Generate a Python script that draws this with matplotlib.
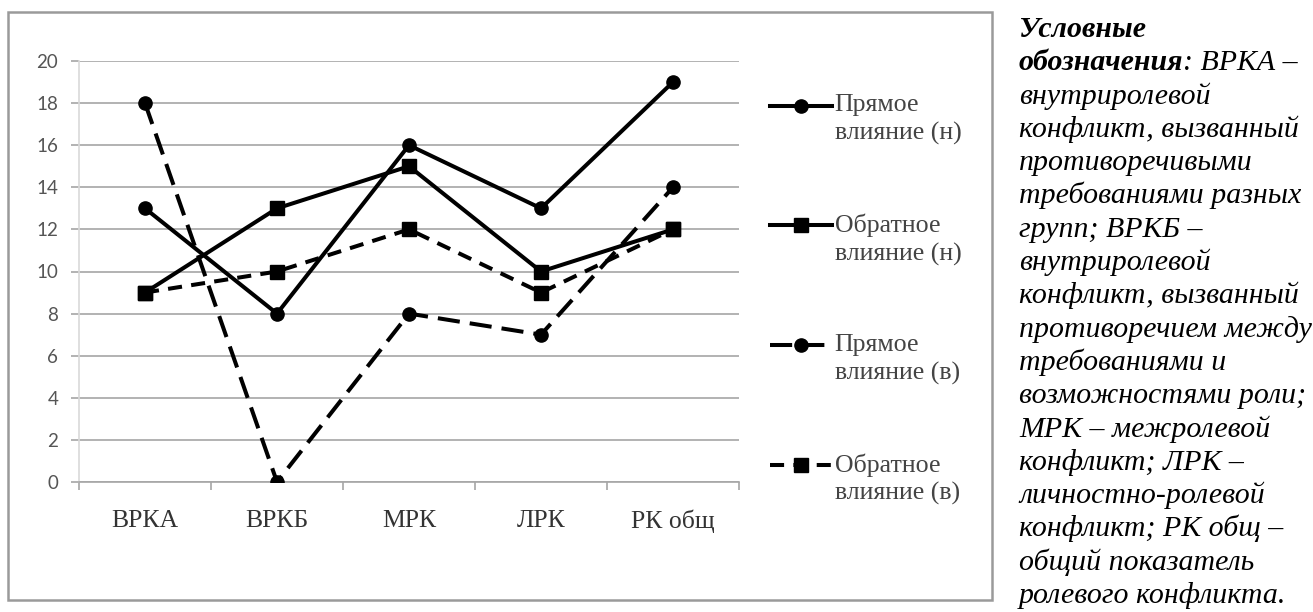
import matplotlib
matplotlib.use('Agg')
import matplotlib.pyplot as plt
from matplotlib.patches import Rectangle

# data
categories = ['ВРКА', 'ВРКБ', 'МРК', 'ЛРК', 'РК общ']
direct_n = [13, 8, 16, 13, 19]
reverse_n = [9, 13, 15, 10, 12]
direct_v = [18, 0, 8, 7, 14]
reverse_v = [9, 10, 12, 9, 12]
labels = ['\nПрямое\nвлияние (н)', '\nОбратное\nвлияние (н)',
          '\nПрямое\nвлияние (в)', '\nОбратное\nвлияние (в)']
y_ticks = [0, 2, 4, 6, 8, 10, 12, 14, 16, 18, 20]

note_bold = ['Условные', 'обозначения']
note_lines = [': ВРКА –', 'внутриролевой', 'конфликт, вызванный',
              'противоречивыми', 'требованиями разных', 'групп; ВРКБ –',
              'внутриролевой', 'конфликт, вызванный', 'противоречием между',
              'требованиями и', 'возможностями роли;', 'МРК – межролевой',
              'конфликт; ЛРК –', 'личностно-ролевой', 'конфликт; РК общ –',
              'общий показатель', 'ролевого конфликта.']

W, H = 1313, 612
fig = plt.figure(figsize=(W / 100, H / 100), dpi=100)


def px(x0, y0, x1, y1):
    return [x0 / W, 1 - y1 / H, (x1 - x0) / W, (y1 - y0) / H]


# chart frame
fig.patches.append(Rectangle((8 / W, 1 - 600 / H), (992 - 8) / W, (600 - 12) / H,
                             transform=fig.transFigure, fill=False,
                             edgecolor='#9a9a9a', lw=1.8, zorder=0))

ax = fig.add_axes(px(79, 61, 739, 482))
x = list(range(len(categories)))

ax.plot(x, direct_n, color='black', lw=2.9, marker='o', ms=9.5,
        label=labels[0], zorder=5)
ax.plot(x, reverse_n, color='black', lw=2.9, marker='s', ms=10.5,
        label=labels[1], zorder=5)
ax.plot(x, direct_v, color='black', lw=2.9, marker='o', ms=9.5,
        dashes=(5.5, 2.5), label=labels[2], zorder=4)
ax.plot(x, reverse_v, color='black', lw=2.9, marker='s', ms=10.5,
        dashes=(3.5, 2.3), label=labels[3], zorder=4)

ax.set_xlim(-0.5, len(categories) - 0.5)
ax.set_ylim(0, 20)
ax.set_yticks(y_ticks)
ax.grid(axis='y', color='#a6a6a6', lw=1.2)
ax.set_axisbelow(True)

for s in ['top', 'right']:
    ax.spines[s].set_visible(False)
ax.spines['left'].set_color('#d9d9d9')
ax.spines['left'].set_linewidth(1.2)
ax.spines['bottom'].set_color('#a6a6a6')
ax.spines['bottom'].set_linewidth(1.2)

ax.set_xticks(x)
ax.set_xticklabels(categories, fontfamily='Liberation Serif', fontsize=18.5,
                   color='#333333')
ax.set_xticks([i - 0.5 for i in range(len(categories) + 1)], minor=True)
ax.tick_params(axis='x', which='major', length=0, pad=20)
ax.tick_params(axis='x', which='minor', length=6, width=1.2, color='#a6a6a6')
ax.tick_params(axis='y', length=6, width=1.2, color='#a6a6a6', pad=9,
               labelsize=13.5, labelcolor='#555555')
for t in ax.get_yticklabels():
    t.set_fontfamily('Lato')

leg = ax.legend(loc='upper left', bbox_to_anchor=(770 / W, 1 - 67 / H),
                bbox_transform=fig.transFigure, frameon=False,
                prop={'family': 'Liberation Serif', 'size': 18.6},
                handlelength=2.4, handletextpad=0.1, labelspacing=1.57,
                borderpad=0, borderaxespad=0, labelcolor='#444444')
for t in leg.get_texts():
    t.set_linespacing(1.32)

# side note
x0 = 1019 / W
y0 = 37
step = 33.3
fs = 21.5
fig.text(x0, 1 - y0 / H, note_bold[0], fontfamily='Liberation Serif', fontsize=fs,
         style='italic', weight='bold', va='baseline')
b = fig.text(x0, 1 - (y0 + step) / H, note_bold[1], fontfamily='Liberation Serif',
             fontsize=fs, style='italic', weight='bold', va='baseline')
r = fig.canvas.get_renderer()
bw = b.get_window_extent(r).width / W
fig.text(x0 + bw, 1 - (y0 + step) / H, note_lines[0], fontfamily='Liberation Serif',
         fontsize=fs, style='italic', va='baseline')
for i, line in enumerate(note_lines[1:]):
    fig.text(x0, 1 - (y0 + step * (i + 2)) / H, line, fontfamily='Liberation Serif',
             fontsize=fs, style='italic', va='baseline')

fig.savefig('out.png', dpi=100)
